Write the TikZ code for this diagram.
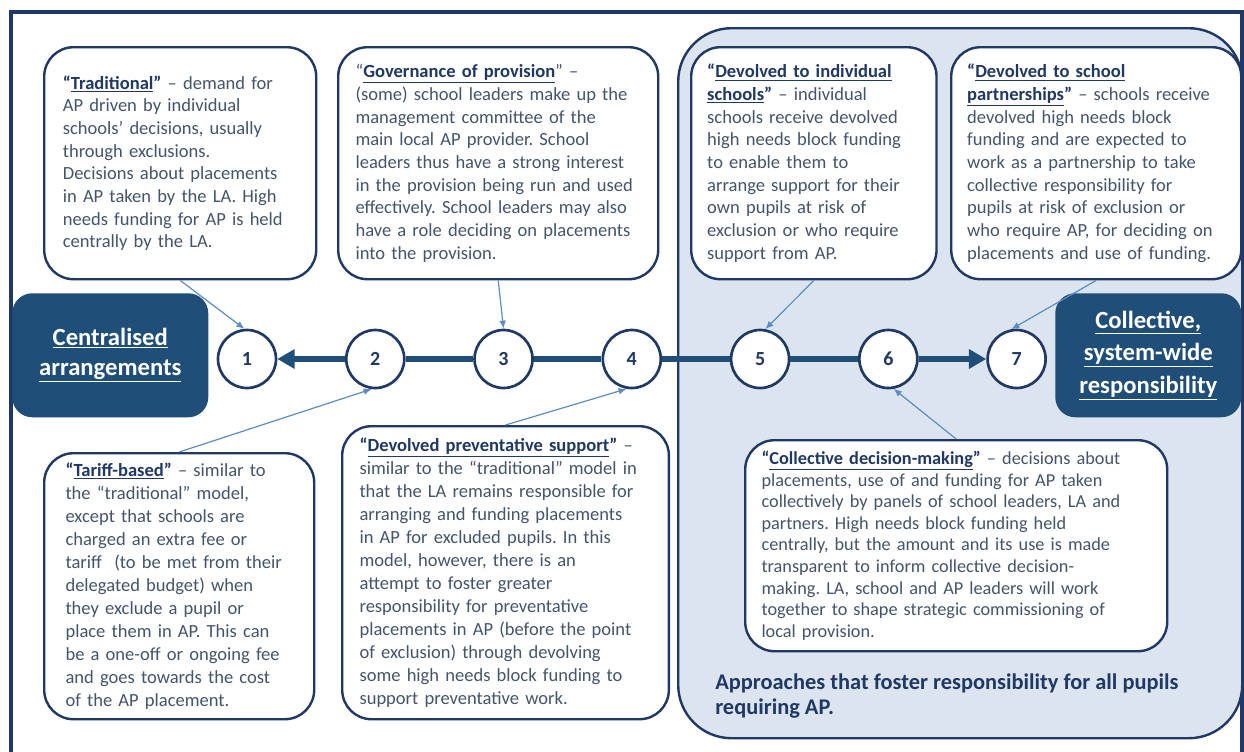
\documentclass[tikz,border=0pt]{standalone}
\usepackage{fontspec}
\setmainfont{Carlito}
\usepackage{tikz}
\usetikzlibrary{arrows.meta,calc,positioning}
\definecolor{navy}{HTML}{1F3864}
\definecolor{darkblue}{HTML}{1F4E79}
\definecolor{slate}{HTML}{44546A}
\definecolor{paleblue}{HTML}{DCE4F0}
\definecolor{pointblue}{HTML}{5B8CC6}
\newcommand{\headtxt}[1]{{\bfseries\color{navy}#1}}
\frenchspacing

\begin{document}
\begin{tikzpicture}[x=0.75pt,y=-0.75pt,node distance=50.7pt]

\tikzset{descbox/.style={draw=navy,line width=1.8pt,fill=white,rounded corners=22pt,anchor=north west,align=left,text=slate,inner xsep=14pt,inner ysep=0pt,font=\fontsize{13.9}{17}\selectfont},
endbox/.style={fill=darkblue,rounded corners=15pt,anchor=north west,align=center,text=white,inner sep=0pt,font=\fontsize{18.5}{22.5}\selectfont\bfseries},
stepnode/.style={circle,draw=navy,line width=2pt,fill=white,minimum size=43.5pt,inner sep=0pt,text=navy,font=\fontsize{15}{15}\selectfont\bfseries},
axisline/.style={draw=darkblue,line width=4.5pt},
pointer/.style={draw=pointblue,line width=0.9pt,-{Latex[length=6pt,width=5pt]}}}

\path[use as bounding box,fill=white] (0,0) rectangle (1244,751);
\clip (0,0) rectangle (1244,751);

% Frame and shaded zone
\draw[navy,line width=2.5pt] (11,12) rectangle (1242,775);
\node (zone) [draw=navy,line width=1.8pt,fill=paleblue,rounded corners=40pt,anchor=north west,minimum width=423pt,minimum height=532.5pt] at (677,27) {};
\node (zoneText) [anchor=north west,inner sep=0pt,align=left,text=navy,font=\fontsize{16.8}{18.75}\selectfont\bfseries] at (715,673) {Approaches that foster responsibility for all pupils\\requiring AP.};

% Top boxes
\node (trad) [descbox,minimum width=204pt,minimum height=174pt,text width=176pt] at (43,46) {\headtxt{“\underline{Traditional}”} – demand for\\
AP driven by individual\\
schools’ decisions, usually\\
through exclusions.\\
Decisions about placements\\
in AP taken by the LA. High\\
needs funding for AP is held\\
centrally by the LA.};
\node (gov) [descbox,minimum width=240pt,minimum height=174pt,text width=214pt,inner xsep=13pt] at (337,46) {“\headtxt{\underline{Governance of provision}}” –\\
(some) school leaders make up the\\
management committee of the\\
main local AP provider. School\\
leaders thus have a strong interest\\
in the provision being run and used\\
effectively. School leaders may also\\
have a role deciding on placements\\
into the provision.};
\node (indiv) [descbox,minimum width=183.75pt,minimum height=174pt,text width=160pt,inner xsep=12pt] at (690,46) {\headtxt{“\underline{Devolved to individual}}\\
\headtxt{\underline{schools}”} – individual\\
schools receive devolved\\
high needs block funding\\
to enable them to\\
arrange support for their\\
own pupils at risk of\\
exclusion or who require\\
support from AP.};
\node (partner) [descbox,minimum width=217.5pt,minimum height=174pt,text width=193.5pt,inner xsep=12pt] at (950,46) {\headtxt{“\underline{Devolved to school}}\\
\headtxt{\underline{partnerships}”} – schools receive\\
devolved high needs block\\
funding and are expected to\\
work as a partnership to take\\
collective responsibility for\\
pupils at risk of exclusion or\\
who require AP, for deciding on\\
placements and use of funding.};

% End boxes
\node (centralBox) [endbox,minimum width=147pt,minimum height=93pt] at (12,293) {\underline{Centralised}\\\underline{arrangements}};
\node (collectBox) [endbox,minimum width=139.5pt,minimum height=93pt,font=\fontsize{18.5}{24.4}\selectfont\bfseries] at (1055,293) {\underline{Collective,}\\\underline{system-wide}\\\underline{responsibility}};

% Steps along the axis
\node (c1) [stepnode] at (247,359) {1};
\node (c2) [right=of c1,stepnode] {2};
\node (c3) [right=of c2,stepnode] {3};
\node (c4) [right=of c3,stepnode] {4};
\node (c5) [right=of c4,stepnode] {5};
\node (c6) [right=of c5,stepnode] {6};
\node (c7) [right=of c6,stepnode] {7};

\draw[axisline,-{Triangle[length=13pt,width=14pt]}] (c2) -- (c1);
\draw[axisline] (c2) -- (c3); \draw[axisline] (c3) -- (c4); \draw[axisline] (c4) -- (c5); \draw[axisline] (c5) -- (c6);
\draw[axisline,-{Triangle[length=13pt,width=14pt]}] (c6) -- (c7);

% Bottom boxes
\node (tariff) [descbox,minimum width=202.5pt,minimum height=199.5pt,text width=170.5pt,inner xsep=16pt,font=\fontsize{13.9}{17.25}\selectfont] at (43,452) {\headtxt{“\underline{Tariff-based}”} – similar to\\
the “traditional” model,\\
except that schools are\\
charged an extra fee or\\
tariff~ (to be met from their\\
delegated budget) when\\
they exclude a pupil or\\
place them in AP. This can\\
be a one-off or ongoing fee\\
and goes towards the cost\\
of the AP placement.};
\node (prevent) [descbox,minimum width=245pt,minimum height=219.75pt,text width=219pt,inner xsep=13pt,font=\fontsize{13.9}{17.25}\selectfont] at (341,425) {\headtxt{“\underline{Devolved preventative support}”} –\\
similar to the “traditional” model in\\
that the LA remains responsible for\\
arranging and funding placements\\
in AP for excluded pupils. In this\\
model, however, there is an\\
attempt to foster greater\\
responsibility for preventative\\
placements in AP (before the point\\
of exclusion) through devolving\\
some high needs block funding to\\
support preventative work.};
\node (collab) [descbox,minimum width=316.5pt,minimum height=158.25pt,text width=292pt,inner xsep=12pt,font=\fontsize{13.7}{16.2}\selectfont] at (744,439) {\headtxt{“\underline{Collective decision-making}”} – decisions about\\
placements, use of and funding for AP taken\\
collectively by panels of school leaders, LA and\\
partners. High needs block funding held\\
centrally, but the amount and its use is made\\
transparent to inform collective decision-\\
making. LA, school and AP leaders will work\\
together to shape strategic commissioning of\\
local provision.};

% Pointers from boxes to steps
\draw[pointer] (trad.south) -- (c1.95);
\draw[pointer] (gov.south) -- (c3.north);
\draw[pointer] (indiv.south) -- (c5.80);
\draw[pointer] (partner.south) -- (c7.100);
\draw[pointer] (tariff.north) -- (c2.-97);
\draw[pointer] (prevent.north) -- (c4.-100);
\draw[pointer] (collab.north) -- (c6.-80);

\end{tikzpicture}
\end{document}
